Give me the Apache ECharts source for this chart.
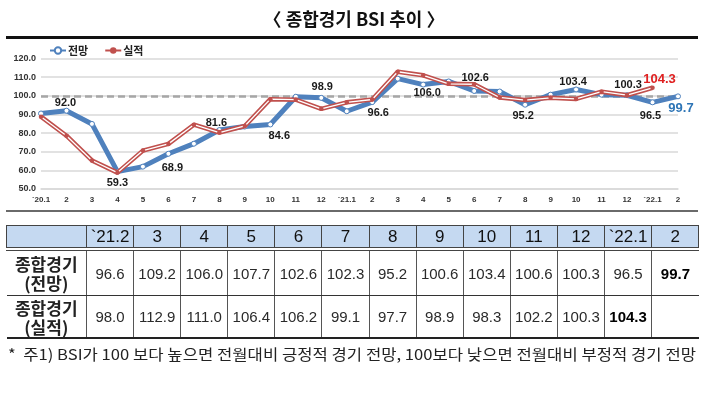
<!DOCTYPE html>
<html><head><meta charset="utf-8">
<script src="https://cdn.jsdelivr.net/npm/echarts@6/dist/echarts.min.js"></script>
<style>
html,body{margin:0;padding:0;background:#fff;width:719px;height:393px;overflow:hidden;position:relative;font-family:"Noto Sans CJK KR",sans-serif;}
#chart{position:absolute;left:0;top:0;width:719px;height:393px;}
#title{position:absolute;left:0;width:708px;top:6px;line-height:24px;text-align:center;font-weight:bold;font-size:18px;color:#111;}
#rule{position:absolute;left:6px;width:692px;top:36px;height:3px;background:#111;}
#rule2{position:absolute;left:6px;width:692px;top:210px;height:2px;background:#6a6a6a;}
#tbl{position:absolute;left:6px;top:225px;border-collapse:collapse;table-layout:fixed;width:692px;}
#tbl td{padding:0;text-align:center;vertical-align:middle;font-family:"Liberation Sans",Arial,sans-serif;font-size:15px;color:#2a2a2a;border-left:1px solid #555;border-right:1px solid #555;white-space:nowrap;overflow:hidden;}
#tbl tr.h td{background:#c5d9f1;font-size:17px;color:#111;border:1px solid #444;height:21px;border-bottom:4px double #444;}
#tbl tr.r2 td{height:44px;border-bottom:1px solid #333;}
#tbl tr.r3 td{height:41px;border-bottom:2px solid #222;}
#tbl td.lab{font-family:"Noto Sans CJK KR",sans-serif;font-weight:bold;font-size:17px;line-height:19px;color:#222;border-left:none;}
#tbl td.last{border-right:none;}
#tbl td.b{font-weight:bold;color:#000;font-size:15px;}
#note{position:absolute;left:8px;top:345px;font-size:15px;line-height:18px;color:#222;white-space:nowrap;transform-origin:0 0;}
</style></head>
<body>
<div id="chart"></div>
<div id="title">〈 종합경기 BSI 추이 〉</div>
<div id="rule"></div>
<div id="rule2"></div>
<table id="tbl"></table>
<div id="note">*&nbsp; 주1) BSI가 100 보다 높으면 전월대비 긍정적 경기 전망, 100보다 낮으면 전월대비 부정적 경기 전망</div>
<script>
// ---- data ----
const categories = ['2020-01','2020-02','2020-03','2020-04','2020-05','2020-06','2020-07','2020-08','2020-09','2020-10','2020-11','2020-12',
  '2021-01','2021-02','2021-03','2021-04','2021-05','2021-06','2021-07','2021-08','2021-09','2021-10','2021-11','2021-12','2022-01','2022-02'];
const tickLabels = ['`20.1','2','3','4','5','6','7','8','9','10','11','12','`21.1','2','3','4','5','6','7','8','9','10','11','12','`22.1','2'];
const forecast = [90.5, 92.0, 84.9, 59.3, 62.0, 68.9, 74.3, 81.6, 83.5, 84.6, 99.5, 98.9, 91.7,
  96.6, 109.2, 106.0, 107.7, 102.6, 102.3, 95.2, 100.6, 103.4, 100.6, 100.3, 96.5, 99.7];
const actual = [88.8, 78.6, 65.3, 58.8, 70.6, 74.2, 84.5, 80.3, 83.8, 98.2, 97.9, 93.0, 96.5,
  98.0, 112.9, 111.0, 106.4, 106.2, 99.1, 97.7, 98.9, 98.3, 102.2, 100.3, 104.3, null];
const tableCols = ['`21.2','3','4','5','6','7','8','9','10','11','12','`22.1','2'];
const tableStart = 13;
const yTicks = {min: 50, max: 120, interval: 10};
const baseline = 100;

// ---- label styling (offsets relative to point) ----
const fLabelOffsets = {1:[-1,-8],3:[0,11.5],5:[4,14],7:[-3,-7.5],9:[9,11],11:[1,-11],13:[6,11],15:[4,8.5],
  17:[1,-13.4],19:[-2,11.7],21:[-3,-7],23:[1,-10],24:[-2,13.4]};
const fLastOffset = [3,12];
const aLabelOffsets = {24:[7,-8.6]};

const BLUE = '#4f81bd', RED = '#c0504d';
function lbl(off, color, size){
  return {show:true, position:'inside', offset:off, formatter:p=>p.value.toFixed(1),
    fontFamily:'Liberation Sans, Arial, sans-serif', fontWeight:'bold', fontSize:size, color:color};
}
const fData = forecast.map((v,i)=>{
  if (i === forecast.length-1) return {value:v, label:lbl(fLastOffset,'#2e75b6',13)};
  if (fLabelOffsets[i]) return {value:v, label:lbl(fLabelOffsets[i],'#1a1a1a',11)};
  return v;
});
const aData = actual.map((v,i)=> aLabelOffsets[i] && v!=null ? {value:v, label:lbl(aLabelOffsets[i],'#e02020',13)} : v);

const chart = echarts.init(document.getElementById('chart'), null, {renderer:'canvas'});
chart.setOption({
  animation:false,
  textStyle:{fontFamily:'Liberation Sans, Arial, sans-serif'},
  legend:{
    data:['전망','실적'], left:44, top:40, itemWidth:16, itemHeight:8, itemGap:16,
    textStyle:{fontFamily:'Noto Sans CJK KR', fontWeight:'bold', fontSize:11, color:'#222', padding:[0,0,0,-3]}
  },
  grid:{left:41, right:41, top:58.5, bottom:204, containLabel:false},
  xAxis:{
    type:'category', data:categories, boundaryGap:false,
    axisLine:{show:true, lineStyle:{color:'#d9d9d9', width:1.5}},
    axisTick:{show:false},
    axisLabel:{interval:0, margin:7, fontSize:8, fontWeight:'bold', color:'#333', formatter:(v,i)=>tickLabels[i]}
  },
  yAxis:{
    type:'value', min:yTicks.min, max:yTicks.max, interval:yTicks.interval,
    axisLine:{show:false}, axisTick:{show:false},
    splitLine:{lineStyle:{color:'#d9d9d9', width:1.5}},
    axisLabel:{margin:5, fontSize:9, fontWeight:'bold', color:'#333', formatter:v=>v.toFixed(1)}
  },
  series:[
    {name:'기준', type:'line', data:[], z:1, silent:true,
     markLine:{z:1, silent:true, symbol:'none', label:{show:false},
       lineStyle:{color:'#a6a6a6', type:[7,4], width:2.5}, data:[{yAxis:baseline}]}},
    {name:'전망', type:'line', data:fData, z:2,
     lineStyle:{color:BLUE, width:5}, symbol:'circle', symbolSize:5,
     itemStyle:{color:'#fff', borderColor:BLUE, borderWidth:1}},
    {name:'실적', type:'line', data:actual, z:3, symbol:'none',
     lineStyle:{color:RED, width:4.5}, itemStyle:{color:RED}},
    {name:'실적선', type:'line', data:aData, z:4,
     lineStyle:{color:'#fff', width:1.3}, symbol:'circle', symbolSize:4.5,
     itemStyle:{color:RED}}
  ]
});

// ---- table ----
const tbl = document.getElementById('tbl');
let html = '<colgroup><col style="width:80px">' + tableCols.map(()=>'<col style="width:47.1px">').join('') + '</colgroup>';
html += '<tr class="h"><td style="border-left:1px solid #444"></td>' + tableCols.map((c,i)=>`<td${i===tableCols.length-1?' style="border-right:1px solid #444"':''}>${c}</td>`).join('') + '</tr>';
function row(cls, label, arr){
  const vals = arr.slice(tableStart, tableStart+tableCols.length);
  let lastIdx = -1; vals.forEach((v,i)=>{ if(v!=null) lastIdx=i; });
  return `<tr class="${cls}"><td class="lab">${label}</td>` + vals.map((v,i)=>{
    const c = []; if(i===lastIdx) c.push('b'); if(i===tableCols.length-1) c.push('last');
    return `<td class="${c.join(' ')}">${v==null?'':v.toFixed(1)}</td>`;
  }).join('') + (vals.length<tableCols.length ? '<td class="last"></td>'.repeat(tableCols.length-vals.length) : '') + '</tr>';
}
html += row('r2','종합경기<br>(전망)', forecast);
html += row('r3','종합경기<br>(실적)', actual);
tbl.innerHTML = html;

// fit footnote to width
const note = document.getElementById('note');
const w = note.getBoundingClientRect().width;
note.style.transform = 'scaleX(' + (688 / w) + ')';
</script>
</body></html>
